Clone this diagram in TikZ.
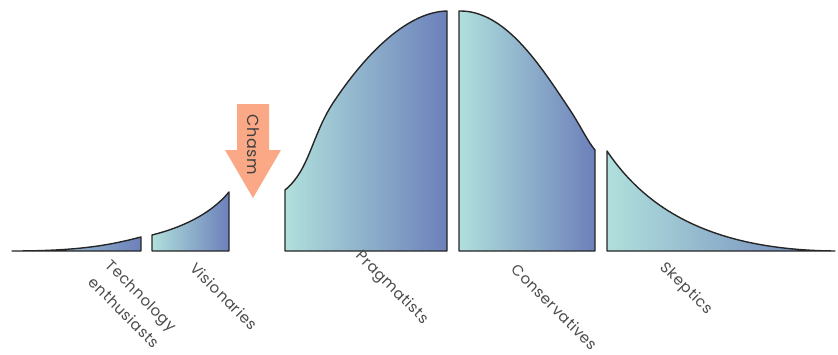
\documentclass[tikz,border=0pt]{standalone}
\usepackage{fontspec}
\setsansfont{Poppins}[LetterSpace=4]
\definecolor{lightteal}{RGB}{176,224,220}
\definecolor{darkblue}{RGB}{108,128,186}
\definecolor{chasmcolor}{RGB}{250,168,134}

\begin{document}
\begin{tikzpicture}[x=1pt, y=-1pt,
	segment/.style={draw=black!85, line width=1.4pt, line join=round, left color=lightteal, right color=darkblue},
	grouplabel/.style={rotate=-45, text=black!70, align=center, inner sep=0pt, font=\sffamily\fontsize{15}{24}\selectfont}]
	\useasboundingbox (0,0) rectangle (838,354);
	% the five groups under the curve
	\draw[segment] (12,251) .. controls (80,251) and (110,245) .. (141,237) -- (141,251) -- cycle;
	\draw[segment] (152,251) -- (152,235) .. controls (180,228) and (210,215) .. (229,192) -- (229,251) -- cycle;
	\draw[segment] (285,251) -- (285,190) .. controls (310,170) and (312,133) .. (335,100) .. controls (355,70) and (400,12) .. (447,11) -- (447,251) -- cycle;
	\draw[segment] (459,251) -- (459,11) .. controls (505,10) and (540,65) .. (570,110) .. controls (580,125) and (588,142) .. (595,150) -- (595,251) -- cycle;
	\draw[segment] (607,251) -- (607,151) .. controls (650,215) and (720,250) .. (835,251) -- cycle;
	% the chasm
	\fill[chasmcolor] (237,104) -- (269,104) -- (269,150) -- (281,150) -- (253,198) -- (225,150) -- (237,150) -- cycle;
	\node[rotate=-90, text=black!75, inner sep=0pt, font=\sffamily\fontsize{16}{18}\selectfont] (chasm) at (253,145) {Chasm};
	% labels
	\node[grouplabel] (enthusiasts) at (133,304) {Technology\\enthusiasts};
	\node[grouplabel] (visionaries) at (224,296) {Visionaries};
	\node[grouplabel] (pragmatists) at (392,288) {Pragmatists};
	\node[grouplabel] (conservatives) at (555,307) {Conservatives};
	\node[grouplabel] (skeptics) at (686,289) {Skeptics};
\end{tikzpicture}
\end{document}
